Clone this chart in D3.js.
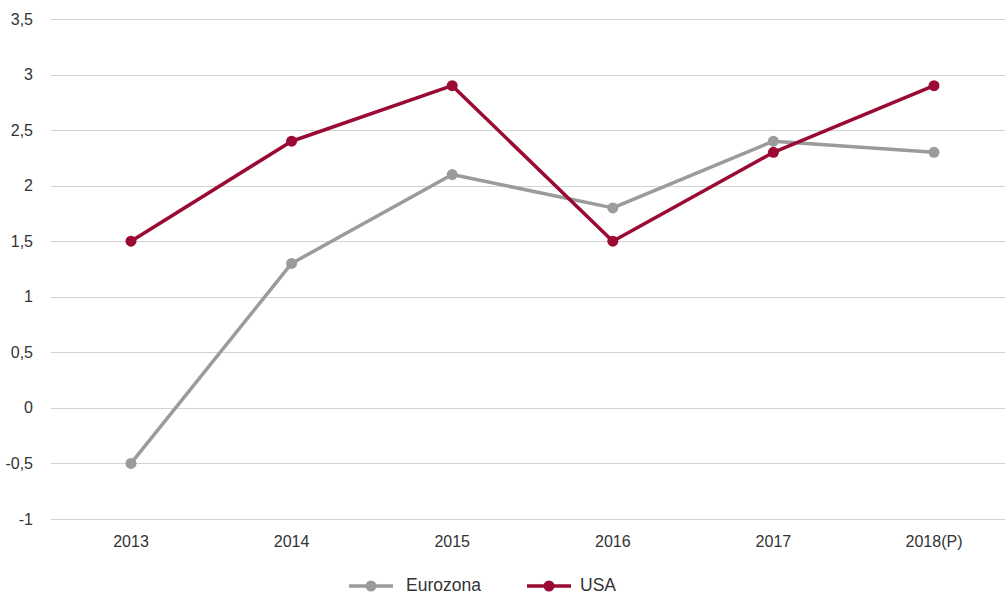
<!DOCTYPE html>
<html>
<head>
<meta charset="utf-8">
<script src="https://cdn.jsdelivr.net/npm/d3@7"></script>
<style>
  body { margin: 0; background: #fff; }
  text { font-family: "Liberation Sans", Arial, sans-serif; fill: #333; }
</style>
</head>
<body>
<div id="grafica"></div>
<script>
  const anios = ["2013", "2014", "2015", "2016", "2017", "2018(P)"];
  const eurozona = [-0.5, 1.3, 2.1, 1.8, 2.4, 2.3];
  const usa = [1.5, 2.4, 2.9, 1.5, 2.3, 2.9];
  const ticksY = [-1, -0.5, 0, 0.5, 1, 1.5, 2, 2.5, 3, 3.5];

  const series = [
    { nombre: "Eurozona", valores: eurozona, color: "#9b9b9d" },
    { nombre: "USA", valores: usa, color: "#9a0a32" }
  ];

  const width = 1005, height = 595;
  const margen = { top: 19, bottom: 75, left: 51 };

  const svg = d3.select("#grafica")
    .append("svg")
    .attr("width", width)
    .attr("height", height);

  // las bandas siguen un poco mas alla del borde derecho
  const x = d3.scaleBand()
    .domain(anios)
    .range([50.7, 1014.3]);

  const y = d3.scaleLinear()
    .domain([-1, 3.5])
    .range([height - margen.bottom - 1, margen.top]);

  const fmt = d => String(d).replace(".", ",");

  // rejilla
  svg.append("g")
    .selectAll("line")
    .data(ticksY)
    .enter()
    .append("line")
    .attr("x1", margen.left)
    .attr("x2", width)
    .attr("y1", d => Math.round(y(d)) + 0.5)
    .attr("y2", d => Math.round(y(d)) + 0.5)
    .attr("stroke", "#d2d2d2")
    .attr("stroke-width", 1);

  // eje Y
  svg.append("g")
    .selectAll("text")
    .data(ticksY)
    .enter()
    .append("text")
    .attr("x", 33)
    .attr("y", d => y(d))
    .attr("dy", "0.35em")
    .attr("text-anchor", "end")
    .style("font-size", "16px")
    .text(fmt);

  // eje X
  svg.append("g")
    .selectAll("text")
    .data(anios)
    .enter()
    .append("text")
    .attr("x", d => x(d) + x.bandwidth() / 2)
    .attr("y", 547)
    .attr("text-anchor", "middle")
    .style("font-size", "16px")
    .text(d => d);

  const linea = d3.line()
    .x((d, i) => x(anios[i]) + x.bandwidth() / 2)
    .y(d => y(d));

  series.forEach(s => {
    svg.append("path")
      .attr("d", linea(s.valores))
      .attr("fill", "none")
      .attr("stroke", s.color)
      .attr("stroke-width", 3.5)
      .attr("stroke-linejoin", "round");

    svg.append("g")
      .selectAll("circle")
      .data(s.valores)
      .enter()
      .append("circle")
      .attr("cx", (d, i) => x(anios[i]) + x.bandwidth() / 2)
      .attr("cy", d => y(d))
      .attr("r", 5.5)
      .attr("fill", s.color);
  });

  // leyenda
  const leyenda = [
    { x: 349, textoX: 406 },
    { x: 527, textoX: 580 }
  ];
  series.forEach((s, i) => {
    const g = svg.append("g");
    const lx = leyenda[i].x;
    g.append("line")
      .attr("x1", lx).attr("x2", lx + 44)
      .attr("y1", 586).attr("y2", 586)
      .attr("stroke", s.color)
      .attr("stroke-width", 3.5);
    g.append("circle")
      .attr("cx", lx + 22).attr("cy", 586)
      .attr("r", 5.5)
      .attr("fill", s.color);
    g.append("text")
      .attr("x", leyenda[i].textoX)
      .attr("y", 591)
      .style("font-size", "17.5px")
      .text(s.nombre);
  });
</script>
</body>
</html>
